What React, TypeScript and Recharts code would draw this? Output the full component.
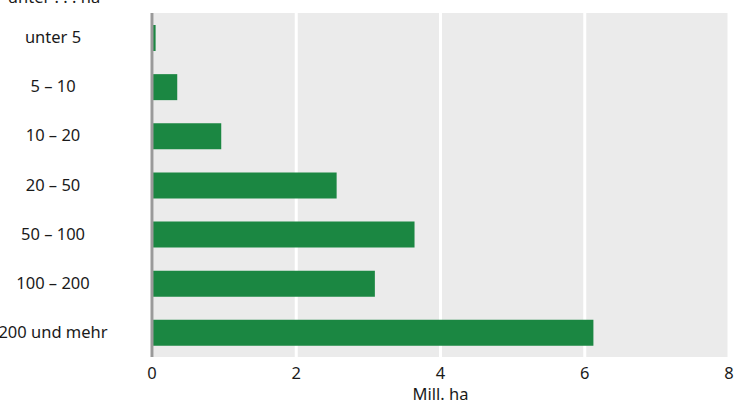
import React from 'react';
import { BarChart, Bar, XAxis, YAxis, CartesianGrid } from 'recharts';

const categories = ['unter 5', '5 – 10', '10 – 20', '20 – 50', '50 – 100', '100 – 200', '200 und mehr'];
const values = [0.05, 0.35, 0.96, 2.56, 3.64, 3.09, 6.12];
const xTicks = [0, 2, 4, 6, 8];
const yTitle = 'unter . . . ha';
const xTitle = 'Mill. ha';

const data = categories.map((c, i) => ({ name: c, value: values[i] }));

const FONT = '"Noto Sans", sans-serif';
const TEXT = '#1a1a1a';
const FS = 16.5;

const YTick = (props: any) => {
  const { y, payload } = props;
  return (
    <text x={53} y={y} dy={5.5} textAnchor="middle" fontFamily={FONT} fontSize={FS} fill={TEXT}>
      {payload.value}
    </text>
  );
};

const XTick = (props: any) => {
  const { x, y, payload } = props;
  return (
    <text x={x} y={y + 14} textAnchor="middle" fontFamily={FONT} fontSize={FS} fill={TEXT}>
      {payload.value}
    </text>
  );
};

const XLabel = (props: any) => {
  const vb = props.viewBox || {};
  return (
    <text x={vb.x + vb.width / 2} y={vb.y + 43} textAnchor="middle" fontFamily={FONT} fontSize={FS} fill={TEXT}>
      {xTitle}
    </text>
  );
};

export default function App() {
  return (
    <div style={{ position: 'absolute', left: 0, top: 0, width: 734, height: 406, background: '#fff' }}>
      <BarChart
        width={734}
        height={406}
        data={data}
        layout="vertical"
        margin={{ top: 13, right: 5, bottom: 0, left: 0 }}
      >
        <CartesianGrid horizontal={false} vertical={true} fill="#ebebeb" stroke="#ffffff" strokeWidth={3} />
        <XAxis
          type="number"
          domain={[0, 8]}
          ticks={xTicks}
          axisLine={false}
          tickLine={false}
          height={49}
          tick={<XTick />}
          label={<XLabel />}
          interval={0}
        />
        <YAxis
          type="category"
          dataKey="name"
          width={152}
          axisLine={{ stroke: '#9a9a9a', strokeWidth: 3 }}
          tickLine={false}
          tick={<YTick />}
          interval={0}
        />
        <Bar dataKey="value" fill="#1b8742" barSize={26} isAnimationActive={false} />
      </BarChart>
      <div
        style={{
          position: 'absolute',
          left: 54,
          top: 5,
          transform: 'translate(-50%, -100%)',
          fontFamily: FONT,
          fontSize: FS,
          color: TEXT,
          whiteSpace: 'nowrap',
          lineHeight: '16px',
        }}
      >
        {yTitle}
      </div>
    </div>
  );
}
